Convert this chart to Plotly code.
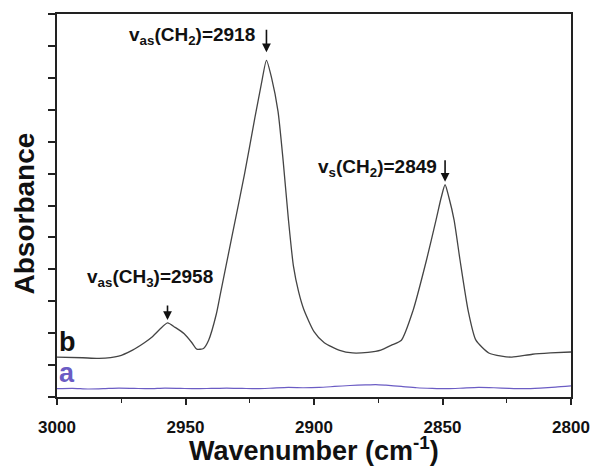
import plotly.graph_objects as go

# Curve b (wavenumber, absorbance in arbitrary units)
wn_b = [3000, 2990, 2983.6, 2976, 2970.6, 2966, 2963, 2960, 2957, 2954, 2950.5, 2947.5, 2945.6,
        2943, 2941, 2938, 2936.5, 2932, 2927, 2923, 2920.5, 2918.5, 2916.5, 2914, 2912, 2910,
        2908, 2906, 2904, 2900, 2896, 2890, 2885, 2879, 2874, 2870, 2866, 2861.5, 2856.2, 2852.5,
        2850.5, 2849, 2847.5, 2845.5, 2843.2, 2840, 2837, 2832, 2827, 2823, 2815, 2808, 2800]
ab_b = [1.25, 1.23, 1.21, 1.28, 1.47, 1.70, 1.88, 2.12, 2.32, 2.18, 1.98, 1.70, 1.50,
        1.52, 1.78, 2.60, 3.20, 5.00, 7.00, 8.75, 9.80, 10.55, 10.00, 8.95, 7.40, 5.60,
        4.10, 3.30, 2.75, 2.05, 1.70, 1.46, 1.38, 1.40, 1.47, 1.62, 1.78, 2.70, 4.30, 5.55,
        6.25, 6.65, 6.25, 5.55, 4.30, 2.70, 1.78, 1.38, 1.28, 1.25, 1.34, 1.38, 1.41]

# Curve a
wn_a = [3000, 2994, 2988, 2982, 2976, 2970, 2964, 2958, 2952, 2946, 2940, 2934, 2928, 2922,
        2916, 2910, 2904, 2898, 2892, 2886, 2880, 2876, 2872, 2866, 2860, 2854, 2848, 2842,
        2836, 2830, 2824, 2818, 2812, 2806, 2800]
ab_a = [0.26, 0.27, 0.25, 0.26, 0.28, 0.27, 0.26, 0.28, 0.27, 0.26, 0.27, 0.28, 0.27, 0.26,
        0.28, 0.30, 0.29, 0.30, 0.33, 0.36, 0.38, 0.39, 0.37, 0.33, 0.29, 0.27, 0.26, 0.28,
        0.30, 0.29, 0.27, 0.26, 0.28, 0.31, 0.35]

peak_wn = [2918.5, 2849, 2957]
peak_ab = [10.55, 6.65, 2.32]
peak_text = ["v<sub>as</sub>(CH<sub>2</sub>)=2918",
             "v<sub>s</sub>(CH<sub>2</sub>)=2849",
             "v<sub>as</sub>(CH<sub>3</sub>)=2958"]

x_ticks = [3000, 2950, 2900, 2850, 2800]

FONT = "Liberation Sans, Arial, sans-serif"
LBL = dict(family=FONT, size=19, color="#111", weight="bold")

fig = go.Figure()
fig.add_trace(go.Scatter(x=wn_a, y=ab_a, mode="lines",
                         line=dict(color="#6b5cc4", width=1.2, shape="spline", smoothing=0.6),
                         showlegend=False, hoverinfo="skip"))
fig.add_trace(go.Scatter(x=wn_b, y=ab_b, mode="lines",
                         line=dict(color="#444444", width=1.3, shape="spline", smoothing=0.6),
                         showlegend=False, hoverinfo="skip"))

annotations = []
# 2918
annotations.append(dict(x=peak_wn[0], y=peak_ab[0], xref="x", yref="y", text="",
                        showarrow=True, arrowhead=2, arrowsize=1.1, arrowwidth=1.6,
                        arrowcolor="#111", ax=0, ay=-32, standoff=8))
annotations.append(dict(x=peak_wn[0], y=peak_ab[0], xref="x", yref="y", text=peak_text[0],
                        showarrow=False, xanchor="right", yanchor="middle",
                        xshift=-9, yshift=24, font=LBL))
# 2849
annotations.append(dict(x=peak_wn[1], y=peak_ab[1], xref="x", yref="y", text="",
                        showarrow=True, arrowhead=2, arrowsize=1.1, arrowwidth=1.6,
                        arrowcolor="#111", ax=0, ay=-26, standoff=3))
annotations.append(dict(x=peak_wn[1], y=peak_ab[1], xref="x", yref="y", text=peak_text[1],
                        showarrow=False, xanchor="right", yanchor="middle",
                        xshift=-6, yshift=17, font=LBL))
# 2958
annotations.append(dict(x=peak_wn[2], y=peak_ab[2], xref="x", yref="y", text="",
                        showarrow=True, arrowhead=2, arrowsize=1.1, arrowwidth=1.6,
                        arrowcolor="#111", ax=0, ay=-19, standoff=3))
annotations.append(dict(x=peak_wn[2], y=peak_ab[2], xref="x", yref="y", text=peak_text[2],
                        showarrow=False, xanchor="center", yanchor="middle",
                        xshift=-18, yshift=45, font=LBL))
# curve labels
annotations.append(dict(x=0, y=ab_b[0], xref="paper", yref="y", text="b", showarrow=False,
                        xanchor="left", yanchor="middle", xshift=0, yshift=15,
                        font=dict(family=FONT, size=27, color="#111", weight="bold")))
annotations.append(dict(x=0, y=ab_a[0], xref="paper", yref="y", text="a", showarrow=False,
                        xanchor="left", yanchor="middle", xshift=0, yshift=16,
                        font=dict(family=FONT, size=27, color="#6b5cc4", weight="bold")))
# axis titles
annotations.append(dict(x=0, y=0.5, xref="paper", yref="paper", text="Absorbance",
                        showarrow=False, textangle=-90, xanchor="center", yanchor="middle",
                        xshift=-33, yshift=-8,
                        font=dict(family=FONT, size=28, color="#111", weight="bold")))
annotations.append(dict(x=0.5, y=0, xref="paper", yref="paper", text="Wavenumber (cm<sup>-1</sup>)",
                        showarrow=False, xanchor="center", yanchor="middle",
                        yshift=-52, font=dict(family=FONT, size=27, color="#111", weight="bold")))

fig.update_layout(
    width=602, height=467,
    margin=dict(l=57, r=20, t=13, b=70),
    paper_bgcolor="white", plot_bgcolor="white",
    annotations=annotations,
    showlegend=False,
)
fig.update_xaxes(range=[3000, 2800], tickmode="array", tickvals=x_ticks,
                 ticktext=[str(v) for v in x_ticks],
                 ticks="outside", ticklen=6, tickwidth=1.5, tickcolor="#222",
                 ticklabelstandoff=8,
                 minor=dict(dtick=25, ticks="outside", ticklen=4, tickwidth=1.3, tickcolor="#222",
                            showgrid=False),
                 showline=True, linecolor="#222", linewidth=2, mirror=True,
                 showgrid=False, zeroline=False,
                 tickfont=dict(family=FONT, size=17, color="#111", weight="bold"))
fig.update_yaxes(range=[0, 12], dtick=1, tick0=0, showticklabels=False,
                 ticks="outside", ticklen=7, tickwidth=1.5, tickcolor="#222",
                 showline=True, linecolor="#222", linewidth=2, mirror=True,
                 showgrid=False, zeroline=False)

fig.write_html("out.html")
